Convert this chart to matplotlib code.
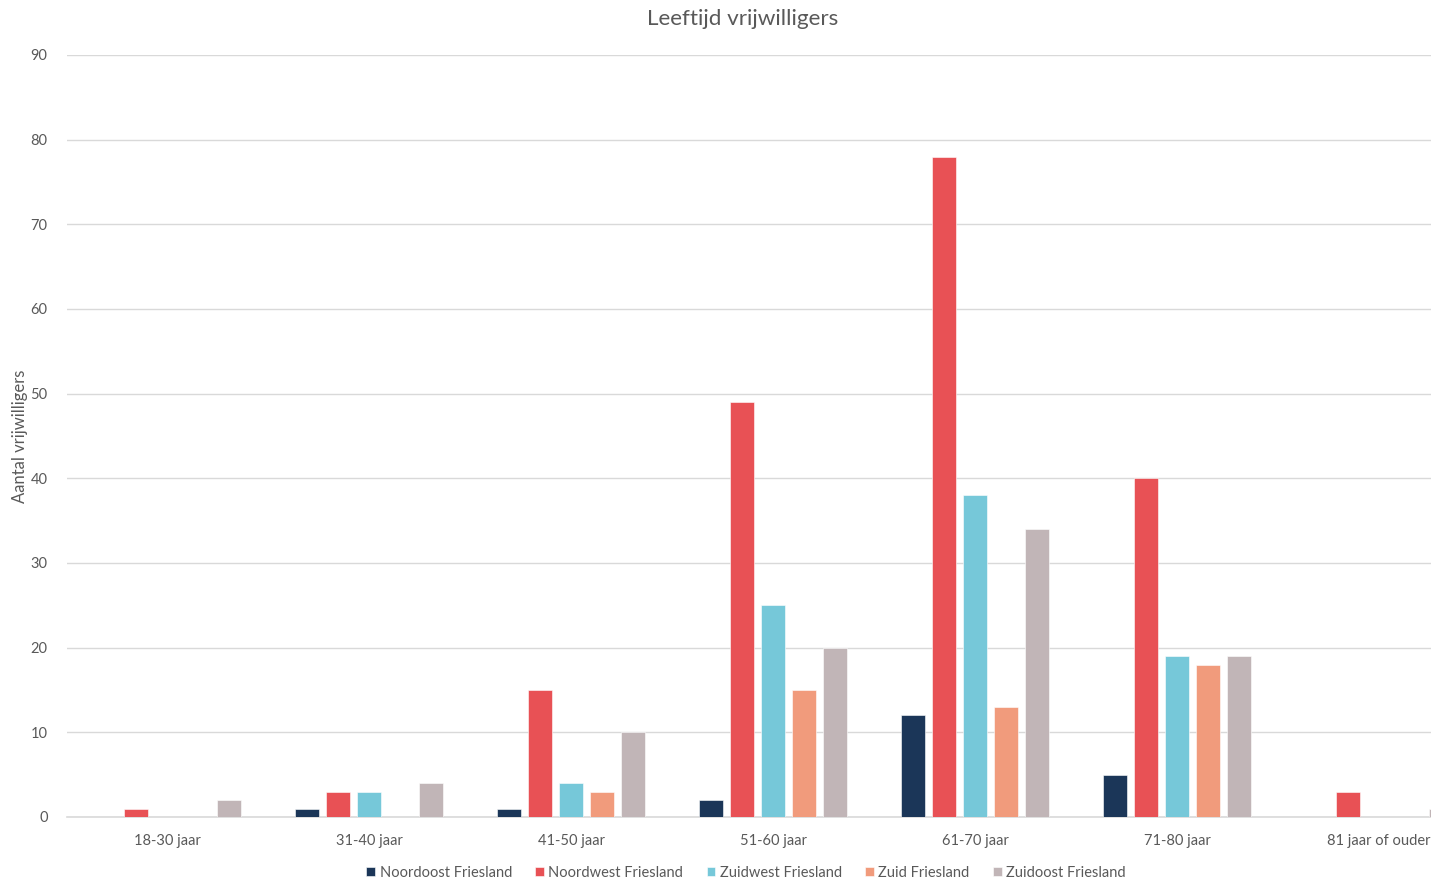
import numpy as np
import matplotlib
matplotlib.use("Agg")
import matplotlib.pyplot as plt

plt.rcParams["font.family"] = ["Lato", "DejaVu Sans"]

categories = ["18-30 jaar", "31-40 jaar", "41-50 jaar", "51-60 jaar",
              "61-70 jaar", "71-80 jaar", "81 jaar of ouder"]
series_names = ["Noordoost Friesland", "Noordwest Friesland", "Zuidwest Friesland",
                "Zuid Friesland", "Zuidoost Friesland"]
noordoost = [0, 1, 1, 2, 12, 5, 0]
noordwest = [1, 3, 15, 49, 78, 40, 3]
zuidwest = [0, 3, 4, 25, 38, 19, 0]
zuid = [0, 0, 3, 15, 13, 18, 0]
zuidoost = [2, 4, 10, 20, 34, 19, 1]
colors = ["#1B3658", "#E85155", "#76C8D9", "#F19B7C", "#C1B5B7"]

values = [noordoost, noordwest, zuidwest, zuid, zuidoost]

fig = plt.figure(figsize=(14.31, 8.82), dpi=100)
ax = fig.add_axes([67 / 1431, 1 - 817 / 882, 1 - 67 / 1431, (817 - 55) / 882])

x = np.arange(len(categories))
width = 0.119
step = 0.153
for i, (name, vals, col) in enumerate(zip(series_names, values, colors)):
    ax.bar(x + (i - 2) * step, vals, width=width, color=col, label=name,
           edgecolor="white", linewidth=0.4, zorder=3)

ax.set_xlim(-0.495, 6.257)
ax.set_ylim(0, 90)
ax.set_yticks(range(0, 91, 10))
ax.set_xticks(x)
ax.set_xticklabels(categories)
ax.grid(axis="y", color="#D9D9D9", linewidth=1, zorder=0)
for s in ["top", "right", "left"]:
    ax.spines[s].set_visible(False)
ax.spines["bottom"].set_color("#D9D9D9")
ax.spines["bottom"].set_linewidth(1.2)
ax.tick_params(axis="both", length=0, colors="#595959", labelsize=10.5)
ax.tick_params(axis="y", pad=14)
ax.tick_params(axis="x", pad=12)

fig.text(743 / 1431, 1 - 19 / 882, "Leeftijd vrijwilligers", ha="center", va="center",
         fontsize=16.2, color="#595959")
fig.text(20 / 1431, 1 - 436 / 882, "Aantal vrijwilligers", rotation=90, ha="center",
         va="center", fontsize=12, color="#595959")

leg = fig.legend(loc="center", bbox_to_anchor=(746 / 1431, 1 - 873 / 882), ncol=5,
                 frameon=False, fontsize=10.5, handlelength=0.6, handleheight=0.6,
                 handletextpad=0.3, columnspacing=1.6, labelcolor="#595959")

fig.savefig("out.png", dpi=100)
